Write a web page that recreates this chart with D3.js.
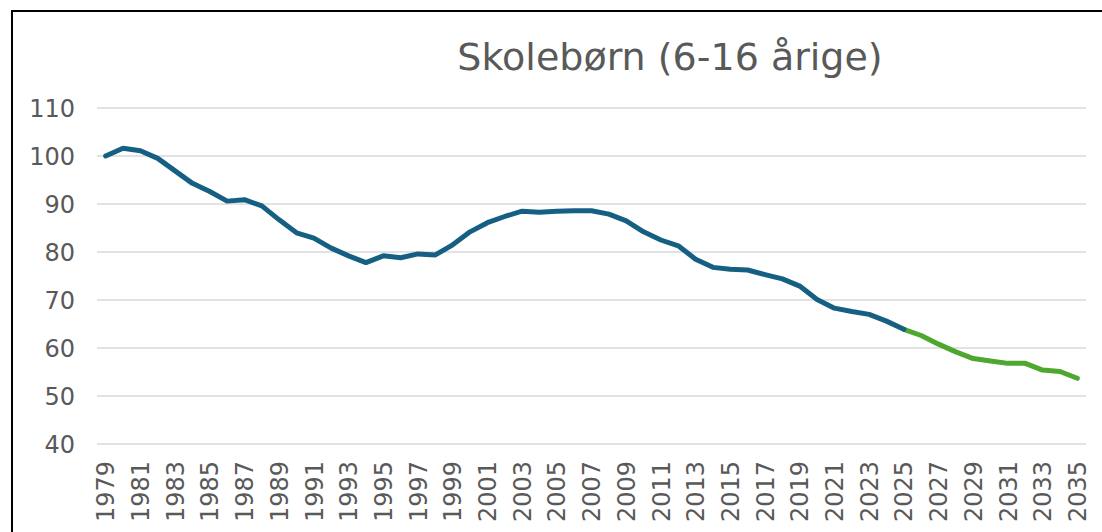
<!DOCTYPE html>
<html>
<head>
<meta charset="utf-8">
<script src="https://cdn.jsdelivr.net/npm/d3@7"></script>
<style>
  html, body { margin: 0; padding: 0; background: #fff; }
  svg { display: block; }
</style>
</head>
<body>
<svg id="chart" width="1102" height="532"></svg>
<script>
// Index of school-age children (6-16 years), 1979 = 100
const historicYears = d3.range(1979, 2026);
const historicValues = [
  100.0, 101.6, 101.1, 99.5, 96.9, 94.3, 92.6, 90.6, 90.9, 89.6,
  86.7, 84.0, 82.9, 80.8, 79.2, 77.8, 79.2, 78.8, 79.6, 79.4,
  81.5, 84.2, 86.1, 87.4, 88.5, 88.3, 88.5, 88.6, 88.6, 87.9,
  86.5, 84.2, 82.5, 81.3, 78.5, 76.8, 76.4, 76.25, 75.3, 74.4,
  72.9, 70.1, 68.3, 67.6, 67.0, 65.6, 63.9
];
const forecastYears = d3.range(2025, 2036);
const forecastValues = [
  63.9, 62.6, 60.8, 59.2, 57.8, 57.3, 56.8, 56.8, 55.4, 55.1, 53.7
];
const yTicks = [40, 50, 60, 70, 80, 90, 100, 110];
const allYears = d3.range(1979, 2036);
const xTickLabels = allYears.filter(y => (y - 1979) % 2 === 0);
const title = "Skolebørn (6-16 årige)";

const svg = d3.select("#chart");
const margin = { left: 97, right: 1086, top: 108, bottom: 444 };

const x = d3.scaleBand()
  .domain(allYears)
  .range([margin.left, margin.right])
  .paddingInner(0).paddingOuter(0);
const xc = yr => x(yr) + x.bandwidth() / 2;

const y = d3.scaleLinear().domain([40, 110]).range([margin.bottom, margin.top]);

const textColor = "#595959";
const font = "'DejaVu Sans', Verdana, sans-serif";

// outer frame (left and top edges visible)
svg.append("path")
  .attr("d", "M12,532 L12,11 L1102,11")
  .attr("fill", "none")
  .attr("stroke", "#000")
  .attr("stroke-width", 2);

// horizontal gridlines
svg.append("g")
  .selectAll("line")
  .data(yTicks)
  .join("line")
  .attr("x1", margin.left)
  .attr("x2", margin.right)
  .attr("y1", d => y(d))
  .attr("y2", d => y(d))
  .attr("stroke", "#d9d9d9")
  .attr("stroke-width", 1.5);

// y axis labels
const yAxis = svg.append("g")
  .attr("transform", `translate(${margin.left - 22},0)`)
  .call(d3.axisLeft(y).tickValues(yTicks).tickSize(0).tickPadding(0));
yAxis.select(".domain").remove();
yAxis.selectAll("text")
  .attr("fill", textColor)
  .attr("font-family", font)
  .attr("font-size", 24)
  .attr("dy", "0.36em");

// x axis labels, rotated
const xAxis = svg.append("g")
  .attr("transform", `translate(0,${margin.bottom})`)
  .call(d3.axisBottom(x).tickValues(xTickLabels).tickSize(0).tickPadding(0));
xAxis.select(".domain").remove();
xAxis.selectAll("text")
  .attr("fill", textColor)
  .attr("font-family", font)
  .attr("font-size", 24)
  .attr("text-anchor", "end")
  .attr("transform", "translate(0,17) rotate(-90)")
  .attr("x", 0)
  .attr("y", 0)
  .attr("dy", "0.36em");

// lines
const line = d3.line()
  .x(d => xc(d[0]))
  .y(d => y(d[1]));

svg.append("path")
  .datum(forecastYears.map((yr, i) => [yr, forecastValues[i]]))
  .attr("d", line)
  .attr("fill", "none")
  .attr("stroke", "#4ea72e")
  .attr("stroke-width", 5)
  .attr("stroke-linejoin", "round")
  .attr("stroke-linecap", "round");

svg.append("path")
  .datum(historicYears.map((yr, i) => [yr, historicValues[i]]))
  .attr("d", line)
  .attr("fill", "none")
  .attr("stroke", "#156082")
  .attr("stroke-width", 5)
  .attr("stroke-linejoin", "round")
  .attr("stroke-linecap", "round");

// title
svg.append("text")
  .attr("x", 670)
  .attr("y", 70)
  .attr("text-anchor", "middle")
  .attr("fill", textColor)
  .attr("font-family", font)
  .attr("font-size", 38)
  .text(title);
</script>
</body>
</html>
